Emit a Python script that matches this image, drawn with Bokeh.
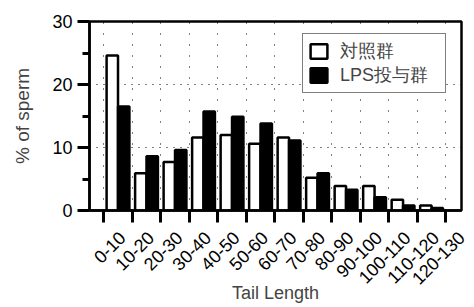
import math
from bokeh.plotting import figure
from bokeh.models import FixedTicker, Range1d
from bokeh.embed import file_html
from bokeh.resources import INLINE

# ---- data ----
bin_labels = ["0-10", "10-20", "20-30", "30-40", "40-50", "50-60", "60-70",
              "70-80", "80-90", "90-100", "100-110", "110-120", "120-130"]
control = [24.6, 5.9, 7.7, 11.6, 12.0, 10.6, 11.6, 5.2, 3.9, 3.9, 1.7, 0.8]
lps = [16.5, 8.6, 9.6, 15.7, 14.9, 13.8, 11.1, 5.9, 3.3, 2.1, 0.8, 0.4]
series_names = ["対照群", "LPS投与群"]
y_ticks = [0, 10, 20, 30]
y_minor = [5, 15, 25]

FONT = "Liberation Sans"

n = len(control)
xc = list(range(n))
x_end = 12.05
label_shift = 0.15
label_pos = [min(i + label_shift, x_end) for i in range(len(bin_labels))]
boundaries = [i - 0.5 for i in range(n + 1)]

p = figure(width=474, height=307, output_backend="svg", toolbar_location=None,
           x_range=Range1d(-1.0, x_end), y_range=Range1d(0, 30),
           min_border_left=89, min_border_top=21, min_border_right=13, min_border_bottom=97)

p.outline_line_color = "black"
p.outline_line_width = 2.5

p.vbar(x=[x - 0.2 for x in xc], top=control, width=0.4, fill_color="white",
       line_color="black", line_width=2.5, legend_label=series_names[0])
p.vbar(x=[x + 0.2 for x in xc], top=lps, width=0.4, fill_color="black",
       line_color="black", line_width=2.5, legend_label=series_names[1])

# x axis
xa = p.xaxis[0]
xa.ticker = FixedTicker(ticks=label_pos, minor_ticks=boundaries)
xa.major_label_overrides = {pos: s for pos, s in zip(label_pos, bin_labels)}
xa.major_label_orientation = math.pi / 4
xa.major_tick_line_color = None
xa.major_tick_out = 12
xa.major_tick_in = 0
xa.minor_tick_out = 12
xa.minor_tick_in = 0
xa.minor_tick_line_width = 3
xa.minor_tick_line_color = "black"
xa.axis_line_width = 2.5
xa.major_label_standoff = 12
xa.major_label_text_font = FONT
xa.major_label_text_font_size = "18px"
xa.major_label_text_color = "black"
xa.axis_label = "Tail Length"
xa.axis_label_text_font = FONT
xa.axis_label_text_font_size = "18px"
xa.axis_label_text_font_style = "normal"
xa.axis_label_standoff = -10

# y axis
ya = p.yaxis[0]
ya.ticker = FixedTicker(ticks=y_ticks, minor_ticks=y_minor)
ya.major_tick_out = 12
ya.major_tick_in = 0
ya.minor_tick_out = 7
ya.minor_tick_in = 0
ya.major_tick_line_width = 3
ya.minor_tick_line_width = 3
ya.axis_line_width = 2.5
ya.major_label_standoff = 5
ya.major_label_text_font = FONT
ya.major_label_text_font_size = "18px"
ya.major_label_text_color = "black"
ya.axis_label = "% of sperm"
ya.axis_label_text_font = FONT
ya.axis_label_text_font_size = "19px"
ya.axis_label_text_font_style = "normal"
ya.axis_label_standoff = 16

# grids
p.xgrid.ticker = FixedTicker(ticks=boundaries)
p.xgrid.grid_line_color = "black"
p.xgrid.grid_line_width = 1
p.xgrid.grid_line_dash = "1 10"
p.ygrid.ticker = FixedTicker(ticks=[10, 20])
p.ygrid.grid_line_color = "black"
p.ygrid.grid_line_width = 1
p.ygrid.grid_line_dash = "1 6"

# legend
lg = p.legend[0]
lg.location = (213, 117)
lg.padding = 5
lg.spacing = 0
lg.glyph_width = 21
lg.glyph_height = 18
lg.label_height = 18
lg.label_width = 100
lg.label_standoff = 11
lg.label_text_font = FONT
lg.label_text_font_size = "18px"
lg.border_line_color = "black"
lg.border_line_width = 1.5
lg.background_fill_color = "white"
lg.background_fill_alpha = 1.0

open("out.html", "w").write(file_html(p, INLINE))
